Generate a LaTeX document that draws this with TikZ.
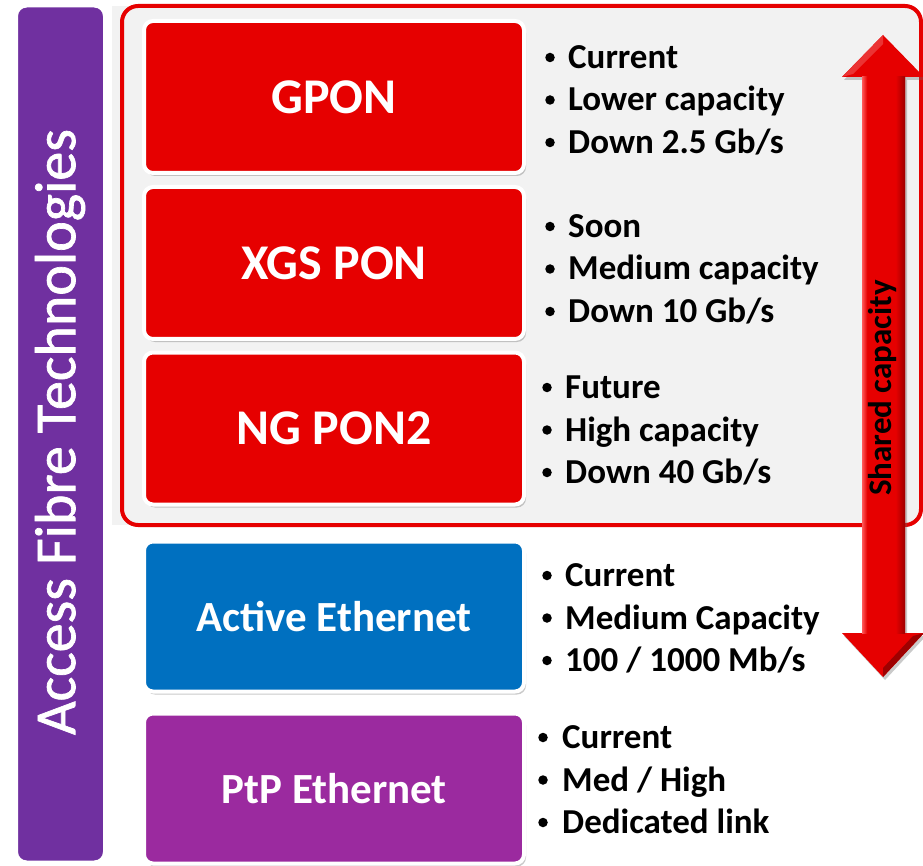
\documentclass[tikz,border=0pt]{standalone}
\usepackage{fontspec}
\setmainfont{Carlito}
\usetikzlibrary{shadows,calc}
\definecolor{techred}{HTML}{E60000}
\definecolor{techblue}{HTML}{0070C0}
\definecolor{techpurple}{HTML}{9B2A9F}
\definecolor{barpurple}{HTML}{7030A0}
\definecolor{panelgray}{HTML}{F2F2F2}
\definecolor{shaftlight}{HTML}{FF5A5A}
\definecolor{shaftdark}{HTML}{9E0000}
% shaft shading: bright left rim, flat red body, dark right rim
\pgfdeclarehorizontalshading{shaftshade}{100bp}{%
  color(0bp)=(shaftlight); color(25bp)=(shaftlight); color(31bp)=(techred);
  color(64bp)=(techred); color(75bp)=(shaftdark); color(100bp)=(shaftdark)}
\tikzset{
  softshadow/.style={drop shadow={shadow xshift=2pt,shadow yshift=-3pt,opacity=0.35,fill=black!60}},
  techbox/.style={draw=white,line width=4pt,rounded corners=9pt,softshadow,
    minimum width=380pt,minimum height=152pt,inner sep=0pt,text=white,font=\bfseries},
  bigtitle/.style={font=\bfseries\fontsize{50}{54}\selectfont},
  midtitle/.style={font=\bfseries\fontsize{43}{46}\selectfont},
  bulletdot/.style={circle,fill=black,inner sep=0pt,minimum size=9.5pt},
  bullettext/.style={anchor=base west,font=\bfseries\fontsize{35}{38}\selectfont,inner sep=0pt},
}
\newcommand{\bulletlist}[5]{%
  % #1 dot x, #2 text x, #3 first baseline, #4 name prefix, #5 three items
  \foreach \t [count=\i] in {#5} {
    \node[bulletdot] (#4dot\i) at (#1,{#3+42.5*(\i-1)-11}) {};
    \node[bullettext] (#4item\i) at (#2,{#3+42.5*(\i-1)}) {\t};
  }%
}
\begin{document}
\begin{tikzpicture}[x=1pt,y=-1pt]
\useasboundingbox (0,0) rectangle (923,866);

% grey backdrop of the PON group
\fill[panelgray] (112,6) rectangle (905,525);
\node[draw=techred,line width=4pt,fill=panelgray,rounded corners=16pt,
  minimum width=799pt,minimum height=519pt,inner sep=0pt] (pongroup) at (521.5,265.5) {};

% vertical title bar
\node[fill=barpurple,draw=white,line width=7pt,rounded corners=12pt,
  drop shadow={shadow xshift=1pt,shadow yshift=-2pt,opacity=0.2},
  minimum width=92pt,minimum height=860pt,inner sep=0pt] (titlebar) at (60.5,434) {};
\node[rotate=90,text=white,font=\fontsize{58}{62}\selectfont\addfontfeature{FakeBold=1.2}]
  (titletext) at (60,432) {Access Fibre Technologies};

% technology boxes
\node[techbox,fill=techred,bigtitle] (gpon) at (334,97) {GPON};
\node[techbox,fill=techred,bigtitle] (xgs) at (334,263) {XGS PON};
\node[techbox,fill=techred,bigtitle] (ngpon) at (334,428.5) {NG PON2};
\node[techbox,fill=techblue,midtitle,minimum height=150pt] (ae) at (334,616.5) {Active Ethernet};
\node[techbox,fill=techpurple,midtitle,minimum height=150pt] (ptp) at (334,788.5) {PtP Ethernet};

% feature lists
\bulletlist{550}{568}{68.5}{g}{Current,Lower capacity,Down 2.5 Gb/s}
\bulletlist{550}{568}{237.5}{x}{Soon,Medium capacity,Down 10 Gb/s}
\bulletlist{547}{565}{398.5}{n}{Future,High capacity,Down 40 Gb/s}
\bulletlist{547}{565}{586.5}{a}{Current,Medium Capacity,100 / 1000 Mb/s}
\bulletlist{543}{562}{748.5}{p}{Current,Med / High,Dedicated link}

% shared-capacity double arrow
\fill[softshadow,techred]
  (883,35) -- (924,77) -- (905,77) -- (905,633) -- (924,633) -- (883,677)
  -- (842,633) -- (862,633) -- (862,77) -- (842,77) -- cycle;
\fill[techred!80!white] (883,35) -- (883,44) -- (853,74) -- (842,77) -- cycle;
\fill[shaftdark] (883,677) -- (883,668) -- (913,636) -- (924,633) -- cycle;
\shade[shading=shaftshade] (862,77) rectangle (905,633);
\node[rotate=90,font=\bfseries\fontsize{33}{36}\selectfont] (shared) at (883,388) {Shared capacity};
\end{tikzpicture}
\end{document}
